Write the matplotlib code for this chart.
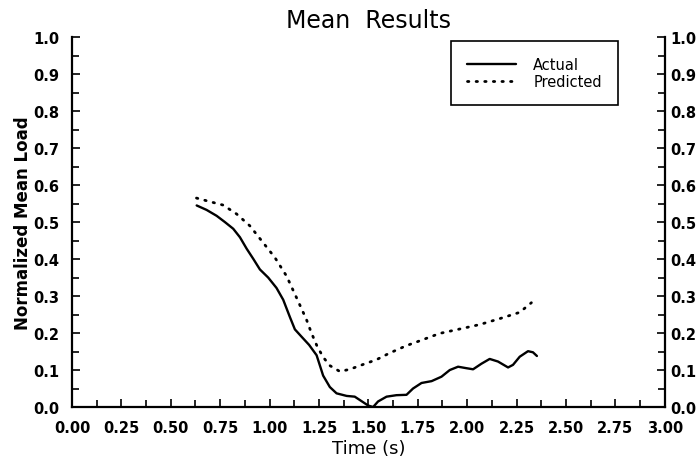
import matplotlib
matplotlib.use("Agg")
import matplotlib.pyplot as plt
from matplotlib.ticker import MultipleLocator, FormatStrFormatter

plt.rcParams['font.family'] = ['DejaVu Sans']

# Measured mean load (normalized) against time
actual_t = [0.631, 0.681, 0.732, 0.774, 0.816, 0.850, 0.884, 0.917, 0.951,
            0.993, 1.035, 1.069, 1.103, 1.128, 1.162, 1.200, 1.238, 1.271,
            1.305, 1.339, 1.390, 1.431, 1.465, 1.499, 1.524, 1.549, 1.592,
            1.642, 1.693, 1.726, 1.769, 1.820, 1.870, 1.912, 1.954, 1.996,
            2.030, 2.072, 2.114, 2.156, 2.207, 2.232, 2.266, 2.308, 2.333,
            2.353]
actual_y = [0.545, 0.533, 0.517, 0.500, 0.482, 0.459, 0.428, 0.401, 0.372,
            0.350, 0.322, 0.290, 0.243, 0.210, 0.190, 0.168, 0.140, 0.085,
            0.054, 0.037, 0.030, 0.028, 0.016, 0.004, 0.000, 0.015, 0.028,
            0.032, 0.033, 0.050, 0.065, 0.070, 0.082, 0.100, 0.109, 0.105,
            0.102, 0.117, 0.130, 0.123, 0.107, 0.114, 0.136, 0.151, 0.148,
            0.138]

# Model prediction
pred_t = [0.630, 0.700, 0.765, 0.833, 0.900, 0.968, 1.027, 1.086, 1.136,
          1.187, 1.212, 1.240, 1.271, 1.305, 1.356, 1.406, 1.473, 1.541,
          1.608, 1.693, 1.760, 1.861, 1.963, 2.064, 2.165, 2.266, 2.325]
pred_y = [0.565, 0.555, 0.546, 0.522, 0.490, 0.444, 0.404, 0.354, 0.296,
          0.236, 0.200, 0.165, 0.135, 0.112, 0.096, 0.102, 0.115, 0.128,
          0.146, 0.166, 0.179, 0.199, 0.211, 0.223, 0.239, 0.256, 0.282]

fig = plt.figure(figsize=(6.99, 4.60), dpi=100)
ax = fig.add_axes([0.103, 0.113, 0.848, 0.804])

ax.plot(actual_t, actual_y, color='black', lw=1.7, label='Actual',
        solid_joinstyle='round', solid_capstyle='round')
ax.plot(pred_t, pred_y, color='black', lw=2.0, linestyle=(0, (0.5, 2.6)),
        dash_capstyle='round', label='Predicted')

ax.set_xlim(0, 3.0)
ax.set_ylim(0, 1.0)
ax.xaxis.set_major_locator(MultipleLocator(0.25))
ax.xaxis.set_minor_locator(MultipleLocator(0.125))
ax.yaxis.set_major_locator(MultipleLocator(0.1))
ax.yaxis.set_minor_locator(MultipleLocator(0.05))
ax.xaxis.set_major_formatter(FormatStrFormatter('%.2f'))
ax.yaxis.set_major_formatter(FormatStrFormatter('%.1f'))

ax.spines['top'].set_visible(False)
ax.spines['right'].set_visible(False)
for s in ('left', 'bottom'):
    ax.spines[s].set_linewidth(1.6)

ax.tick_params(which='both', direction='in', left=True, right=False,
               bottom=True, top=False, width=1.2)
ax.tick_params(which='major', length=6)
ax.tick_params(which='minor', length=5)
ax.tick_params(axis='both', which='major', labelsize=10.5, pad=9)
plt.setp(ax.yaxis.get_majorticklabels(), fontweight='bold')
plt.setp(ax.xaxis.get_majorticklabels(), fontweight='bold')

# Right-hand load scale
ax2 = ax.twinx()
ax2.set_ylim(0, 1.0)
ax2.yaxis.set_major_locator(MultipleLocator(0.1))
ax2.yaxis.set_minor_locator(MultipleLocator(0.05))
ax2.yaxis.set_major_formatter(FormatStrFormatter('%.1f'))
for s in ('top', 'left', 'bottom'):
    ax2.spines[s].set_visible(False)
ax2.spines['right'].set_linewidth(1.6)
ax2.tick_params(which='both', direction='in', width=1.2)
ax2.tick_params(which='major', length=6, labelsize=10.5, pad=4)
ax2.tick_params(which='minor', length=5)
plt.setp(ax2.yaxis.get_majorticklabels(), fontweight='bold')

ax.set_title('Mean  Results', fontsize=17, pad=7)
ax.set_xlabel('Time (s)', fontsize=13, labelpad=3)
ax.set_ylabel('Normalized Mean Load', fontsize=12, fontweight='bold',
              labelpad=1)

leg = ax.legend(loc='upper right', bbox_to_anchor=(0.921, 0.989),
                fontsize=10.5, handlelength=3.4, handletextpad=1.15,
                borderpad=1.1, labelspacing=0.1, fancybox=False,
                framealpha=1, borderaxespad=0)
leg.get_frame().set_edgecolor('black')
leg.get_frame().set_linewidth(1.2)

fig.savefig('out.png', dpi=100)
